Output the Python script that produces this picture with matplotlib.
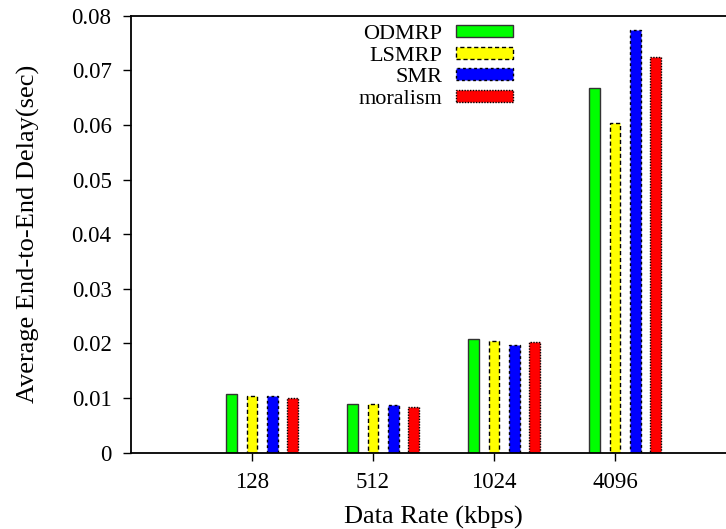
import matplotlib
matplotlib.use('Agg')
import matplotlib.pyplot as plt
import numpy as np

# data
rates = ['128', '512', '1024', '4096']
odmrp = [0.0108, 0.0090, 0.0209, 0.0667]
lsmrp = [0.0104, 0.0089, 0.0205, 0.0603]
smr = [0.0104, 0.0088, 0.0197, 0.0773]
moralism = [0.0101, 0.0084, 0.0202, 0.0724]

plt.rcParams['font.family'] = ['Liberation Serif', 'DejaVu Serif']
plt.rcParams['font.size'] = 16.5

fig = plt.figure(figsize=(7.26, 5.29), dpi=100)
ax = fig.add_axes([131/726, 1 - 452.7/529, 605/726, 437/529])

x = np.arange(len(rates))
step = 0.167
w = 0.088
ax.bar(x - step, odmrp, w, color='#00ff00', edgecolor='#333333', lw=1.0, ls='-', label='ODMRP')
ax.bar(x, lsmrp, w, color='#ffff00', edgecolor='black', lw=1.0, ls=(0, (3, 2)), label='LSMRP')
ax.bar(x + step, smr, w, color='#0000ff', edgecolor='black', lw=1.0, ls=(0, (2, 2)), label='SMR')
ax.bar(x + 2*step, moralism, w, color='#ff0000', edgecolor='black', lw=1.0, ls=(0, (1, 1)), label='moralism')

ax.set_xlim(-1, 4)
ax.set_ylim(0, 0.08)
ax.set_xticks(x)
ax.set_xticklabels(rates)
ax.set_yticks(np.arange(0, 0.081, 0.01))
ax.set_yticklabels(['0'] + ['%.2f' % v for v in np.arange(0.01, 0.081, 0.01)])
ax.tick_params(direction='out', length=6, width=1.0, pad=8)
ax.spines['right'].set_visible(False)
for s in ['left', 'bottom', 'top']:
    ax.spines[s].set_linewidth(1.3)

ax.set_xlabel('Data Rate (kbps)', fontsize=19, labelpad=9)
ax.set_ylabel('Average End-to-End Delay(sec)', fontsize=19, labelpad=23)

ax.legend(loc='upper right', bbox_to_anchor=((513 - 131)/605, (452.7 - 25)/437),
          frameon=False, markerfirst=False, fontsize=16, handlelength=2.57,
          handleheight=0.45, handletextpad=0.6, labelspacing=0.12,
          borderpad=0, borderaxespad=0)

plt.savefig('out.png', dpi=100)
